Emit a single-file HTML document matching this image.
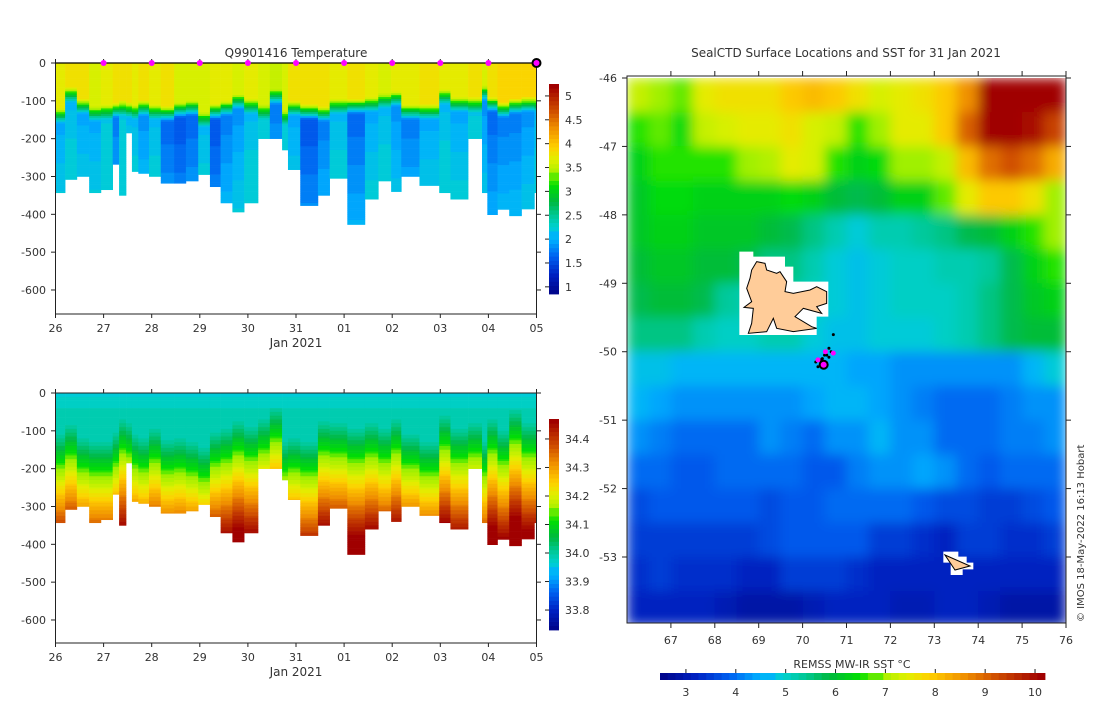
<!DOCTYPE html>
<html><head><meta charset="utf-8"><style>
body{margin:0;background:#fff;}
svg text{font-family:"DejaVu Sans","Liberation Sans",sans-serif;fill:#333;}
</style></head><body>
<svg id="s" width="1100" height="700" xmlns="http://www.w3.org/2000/svg">
<defs>
<clipPath id="mapclip"><rect x="627" y="76" width="439" height="547"/></clipPath>
<filter id="blur" x="0" y="0" width="1" height="1"><feGaussianBlur stdDeviation="6" edgeMode="duplicate"/></filter>
</defs>
<rect width="1100" height="700" fill="#fff"/>
<g id="tprof"></g>
<g id="sprof"></g>
<g clip-path="url(#mapclip)"><g id="sst" filter="url(#blur)"></g></g>
<g id="over"></g>
</svg>
<script>
// ---- profile data (per column), days since 26 Jan ----
const colStart=[0,0.2,0.444,0.7,0.944,1.189,1.322,1.467,1.589,1.722,1.944,2.189,2.467,2.711,2.967,3.211,3.433,3.678,3.922,4.211,4.456,4.711,4.833,5.089,5.456,5.7,6.067,6.433,6.711,6.978,7.189,7.567,7.978,8.211,8.578,8.867,8.978,9.189,9.433,9.689,9.956];
const colEnd=10.04;
const colDepth=[343,308,300,343,335,268,350,185,287,292,300,318,318,312,295,327,370,394,370,200,200,230,282,377,350,305,427,360,312,340,300,324,343,360,200,343,401,387,404,386,343];
const colMld=[120,65,95,115,110,105,100,105,110,100,110,115,105,100,130,110,100,82,95,110,70,125,100,110,115,95,95,90,80,75,110,110,70,90,90,60,90,105,95,90,90];
const colTSurf=[3.75,3.8,3.85,3.7,3.75,3.85,3.8,3.8,3.75,3.8,3.75,3.8,3.7,3.7,3.65,3.75,3.75,3.7,3.75,3.7,3.6,3.7,3.85,3.85,3.85,3.75,3.85,3.75,3.7,3.75,3.75,3.8,3.75,3.75,3.85,3.7,3.85,3.9,3.9,3.9,3.9];
const colTMin=[2.0,2.1,2.0,2.0,2.2,1.8,2.2,2.1,2.1,1.9,2.1,1.7,1.6,1.7,2.1,1.6,1.8,1.9,2.1,2.3,1.8,2.3,2.0,1.6,1.8,2.1,1.7,2.0,2.1,1.9,1.8,2.0,2.1,2.0,2.2,1.9,1.7,1.8,1.8,1.9,2.1];
const colSalY=[230,205,240,250,250,225,190,200,230,240,215,245,240,250,265,225,215,195,210,190,160,250,240,250,195,200,215,200,215,190,230,250,180,215,200,250,190,220,165,200,200];
const markerDays=[1,2,3,4,5,6,7,8,9];
const xTicks=['26','27','28','29','30','31','01','02','03','04','05'];
const yTicks=[0,-100,-200,-300,-400,-500,-600];
const tBarTicks=[1,1.5,2,2.5,3,3.5,4,4.5,5];
const sBarTicks=[33.8,33.9,34,34.1,34.2,34.3,34.4];
// ---- SST grid: rows lat -46.25..-53.75, cols lon 66.25..75.75 ----
const sstLat=[-46.25,-46.75,-47.25,-47.75,-48.25,-48.75,-49.25,-49.75,-50.25,-50.75,-51.25,-51.75,-52.25,-52.75,-53.25,-53.75];
const sstLon=[66.25,66.75,67.25,67.75,68.25,68.75,69.25,69.75,70.25,70.75,71.25,71.75,72.25,72.75,73.25,73.75,74.25,74.75,75.25,75.75];
const sstVals=[
[7.2,7.0,6.8,7.5,7.7,7.8,7.8,8.1,8.2,8.1,7.7,7.4,7.6,7.8,8.0,8.6,10.2,10.2,10.2,10.2],
[6.6,6.8,6.5,7.3,7.4,7.6,7.6,7.7,7.4,7.2,6.7,7.0,7.5,7.6,8.0,9.1,10.2,10.2,10.0,9.5],
[6.3,6.7,6.6,6.7,6.7,6.9,7.1,7.5,7.4,6.6,6.3,6.5,7.0,6.9,7.3,8.2,9.0,9.2,8.9,8.3],
[6.2,6.5,6.5,6.3,6.4,6.4,6.4,6.5,6.3,6.1,5.9,6.1,6.3,6.4,6.8,7.6,8.0,8.1,7.8,7.0],
[6.2,6.3,6.3,6.2,6.2,6.2,6.0,5.8,5.5,5.2,5.0,5.2,5.3,5.4,5.6,5.9,6.1,6.4,6.6,6.9],
[6.1,6.2,6.2,6.0,6.0,5.9,5.6,5.5,5.2,4.9,4.8,5.0,5.1,5.1,5.2,5.3,5.4,5.8,6.3,6.6],
[5.9,6.0,6.1,5.8,5.4,5.3,5.3,5.3,5.1,4.9,4.8,5.0,5.1,5.1,5.1,5.3,5.6,5.9,6.2,6.4],
[5.5,5.6,5.6,5.3,5.1,5.1,5.2,5.2,5.0,4.8,4.8,4.9,5.0,5.0,5.1,5.3,5.5,5.8,6.0,6.1],
[4.8,4.8,4.7,4.7,4.7,4.7,4.6,4.7,4.7,4.6,4.5,4.5,4.4,4.4,4.3,4.3,4.4,4.4,4.6,5.0],
[4.6,4.5,4.4,4.4,4.3,4.4,4.4,4.3,4.5,4.6,4.6,4.5,4.4,4.2,4.0,4.0,4.0,4.2,4.3,4.4],
[4.4,4.2,4.1,4.0,4.0,4.1,4.3,4.2,4.0,4.3,4.4,4.6,4.3,4.3,4.1,4.0,4.1,4.2,4.2,4.3],
[4.1,4.0,3.9,3.9,4.0,4.0,4.1,4.0,3.9,3.9,4.2,4.3,4.4,4.5,4.4,4.1,3.9,4.0,4.0,4.0],
[3.7,3.8,3.8,3.8,3.9,3.8,3.7,3.8,3.9,4.0,4.1,4.1,4.0,3.8,3.7,3.7,3.6,3.6,3.7,3.8],
[3.6,3.5,3.6,3.6,3.5,3.6,3.7,3.8,3.8,3.9,3.8,3.6,3.5,3.4,3.3,3.5,3.5,3.4,3.4,3.5],
[3.4,3.5,3.4,3.4,3.4,3.2,3.3,3.5,3.6,3.5,3.4,3.3,3.3,3.3,3.3,3.2,3.2,3.3,3.2,3.3],
[3.3,3.3,3.3,3.3,3.1,3.0,3.0,3.0,3.1,3.2,3.3,3.2,3.1,3.1,3.2,3.2,3.1,3.0,3.0,3.0]];
const sstTicks=[3,4,5,6,7,8,9,10];
const latTicks=[-46,-47,-48,-49,-50,-51,-52,-53];
const lonTicks=[67,68,69,70,71,72,73,74,75,76];

const NS='http://www.w3.org/2000/svg';
const stops=[[0,[0,0,128]],[0.1,[0,32,192]],[0.19,[0,96,240]],[0.27,[0,176,255]],[0.33,[0,208,208]],[0.39,[0,200,144]],[0.45,[0,184,64]],[0.53,[0,224,0]],[0.58,[160,240,0]],[0.65,[224,240,0]],[0.71,[255,208,0]],[0.8,[240,144,0]],[0.88,[208,80,0]],[1,[160,0,0]]];
function cmap(f){f=Math.max(0,Math.min(1,f));f=Math.round(f*50)/50;
 for(let i=1;i<stops.length;i++){if(f<=stops[i][0]){const a=stops[i-1],b=stops[i];const t=(f-a[0])/(b[0]-a[0]);
 return 'rgb('+a[1].map((v,k)=>Math.round(v+(b[1][k]-v)*t)).join(',')+')';}}return 'rgb(160,0,0)';}
function mk(tag,attrs,parent){const e=document.createElementNS(NS,tag);for(const k in attrs)e.setAttribute(k,attrs[k]);(parent||document.getElementById('over')).appendChild(e);return e;}
function txt(x,y,s,anchor,size,parent){const t=mk('text',{x:x,y:y,'text-anchor':anchor||'middle','font-size':size||11},parent);t.textContent=s;return t;}

const X0=55.5,PXD=48.1;
const XR=X0+10*PXD;
const xDay=d=>X0+d*PXD;
const yDepth=(d,top)=>top+d*0.3783;
function tempAt(i,z){const m=colMld[i];if(z<m)return colTSurf[i];
 if(z<m+40)return colTSurf[i]+(colTMin[i]-colTSurf[i])*(z-m)/40;
 return Math.min(2.3,colTMin[i]+(z-m-40)*0.0012);}
function salAt(i,z){const y=colSalY[i];const s0=33.97+0.03*Math.min(z,60)/60;
 if(z<y-120)return s0;return Math.max(s0,34.0+0.2*(z-(y-120))/120);}

function drawSection(gid,top,fn,vmin,vmax){
 const g=document.getElementById(gid);
 for(let i=0;i<colStart.length;i++){
  const x1=xDay(colStart[i]),x2=Math.min(XR,xDay(i+1<colStart.length?colStart[i+1]:colEnd));
  for(let z=0;z<colDepth[i];z+=5){
   const h=Math.min(5,colDepth[i]-z);
   const r=mk('rect',{x:x1.toFixed(2),y:yDepth(z,top).toFixed(2),width:(x2-x1+0.3).toFixed(2),height:(h*0.3783+0.3).toFixed(2),fill:cmap((fn(i,z+2.5)-vmin)/(vmax-vmin))},g);
   
   
  }
 }
}
drawSection('tprof',63,tempAt,0.85,5.25);
drawSection('sprof',393,salAt,33.73,34.47);

function axes(top,bottom,name){
 const box=mk('rect',{x:X0,y:top,width:XR-X0,height:bottom-top,fill:'none',stroke:'#222','stroke-width':1});
 
 
 xTicks.forEach((l,i)=>{const x=xDay(i);mk('line',{x1:x,x2:x,y1:bottom,y2:bottom+4,stroke:'#222'});mk('line',{x1:x,x2:x,y1:top,y2:top-4,stroke:'#222'});
  const t=txt(x,bottom+18,l);});
 const xl=txt(296,bottom+33,'Jan 2021','middle',12);
 yTicks.forEach(v=>{const y=yDepth(-v,top);mk('line',{x1:51,x2:X0,y1:y,y2:y,stroke:'#222'});mk('line',{x1:XR,x2:XR+4.5,y1:y,y2:y,stroke:'#222'});
  const t=txt(46,y+4,String(v),'end');});
}
axes(63,314,'temperature');
axes(393,643,'salinity');
mk('line',{x1:X0,x2:XR,y1:63,y2:63,stroke:'#000','stroke-width':1.2});
const tt=txt(296,57,'Q9901416  Temperature','middle',12);
markerDays.forEach(d=>{const c=mk('circle',{cx:xDay(d),cy:63,r:3,fill:'#ff00ff'});});
const lastM=mk('circle',{cx:xDay(10),cy:63,r:4,fill:'#ff00ff',stroke:'#000','stroke-width':2});



function vbar(x,top,bottom,vmin,vmax,ticks,name,fmt){
 const n=50,h=(bottom-top)/n;
 for(let k=0;k<n;k++){mk('rect',{x:x,y:(bottom-(k+1)*h).toFixed(2),width:10,height:(h+0.4).toFixed(2),fill:cmap((k+0.5)/n)});}
 ticks.forEach(v=>{const y=bottom-(v-vmin)/(vmax-vmin)*(bottom-top);mk('line',{x1:x-4,x2:x,y1:y,y2:y,stroke:'#222'});
  const t=txt(x+16,y+4,fmt(v),'start');});
}
vbar(549,84,294,0.85,5.25,tBarTicks,'temperature-colorbar',v=>String(v));
vbar(549,419,630,33.73,34.47,sBarTicks,'salinity-colorbar',v=>v.toFixed(1));

// ---- map ----
const lonX=l=>627+(l-66)*43.9;
const latY=l=>78+(-46-l)*68.43;
const sg=document.getElementById('sst');
sstVals.forEach((row,r)=>row.forEach((v,c)=>{
 const x1=lonX(sstLon[c]-0.25),y1=latY(sstLat[r]+0.25);
 const rc=mk('rect',{x:x1.toFixed(1),y:y1.toFixed(1),width:22.5,height:34.8,fill:cmap((v-2.48)/(10.2-2.48))},sg);
 
 
}));
function poly(pts,fill,stroke,name){const p=mk('polygon',{points:pts.map(q=>q.join(',')).join(' '),fill:fill,stroke:stroke||'none','stroke-width':1});return p;}
const Z3=(a)=>a.map(([x,y])=>[620+x/3,70+y/3]);
poly(Z3([[358,545],[400,545],[400,560],[470,560],[470,560],[495,560],[495,590],[520,590],[520,635],[625,635],[625,740],[590,740],[590,795],[358,795]]),'#fff',null,'kerguelen-mask');
poly(Z3([[410,575],[435,580],[440,600],[470,610],[480,605],[500,635],[495,665],[520,670],[570,660],[590,650],[620,665],[620,700],[590,710],[605,730],[550,715],[525,740],[575,770],[590,775],[520,785],[470,775],[460,745],[440,785],[385,790],[395,760],[400,715],[372,712],[395,695],[380,655],[390,625],[395,600]]),'#ffcc99','#000','kerguelen-island');
const Z4=(a)=>a.map(([x,y])=>[620+x/3,340+y/3]);
poly(Z4([[970,635],[1015,635],[1015,650],[1040,650],[1040,668],[1060,668],[1060,688],[1028,688],[1028,705],[992,705],[992,668],[970,668]]),'#fff',null,'heard-mask');
poly(Z4([[975,645],[1050,678],[1005,690]]),'#ffcc99','#000','heard-island');
const trackLon=[70.3,70.45,70.55,70.6,70.65,70.5,70.4,70.6,70.7,70.35,70.5];
const trackLat=[-50.15,-50.1,-50.05,-49.95,-50.0,-50.2,-50.12,-50.08,-49.75,-50.22,-50.05];
trackLon.forEach((l,i)=>{const c=mk('circle',{cx:lonX(l),cy:latY(trackLat[i]),r:1.5,fill:'#000'});});
[[70.52,-50.0],[70.7,-50.02],[70.35,-50.12]].forEach(p=>{const c=mk('circle',{cx:lonX(p[0]),cy:latY(p[1]),r:2.5,fill:'#ff00ff'});});
const last=mk('circle',{cx:lonX(70.48),cy:latY(-50.19),r:4,fill:'#ff00ff',stroke:'#000','stroke-width':2});


const mb=mk('rect',{x:627,y:76,width:439,height:547,fill:'none',stroke:'#222'});


latTicks.forEach(v=>{const y=latY(v);mk('line',{x1:622,x2:627,y1:y,y2:y,stroke:'#222'});mk('line',{x1:1066,x2:1071,y1:y,y2:y,stroke:'#222'});
 const t=txt(617,y+4,String(v),'end');});
lonTicks.forEach(v=>{const x=lonX(v);mk('line',{x1:x,x2:x,y1:623,y2:628,stroke:'#222'});mk('line',{x1:x,x2:x,y1:71,y2:76,stroke:'#222'});
 const t=txt(x,644,String(v));});
const mt=txt(846,57,'SealCTD Surface Locations and SST for 31 Jan 2021','middle',12);


const hn=50,hw=(1045-660)/hn;
for(let k=0;k<hn;k++){mk('rect',{x:(660+k*hw).toFixed(2),y:673,width:(hw+0.4).toFixed(2),height:7,fill:cmap((k+0.5)/hn)});}
sstTicks.forEach(v=>{const x=660+(v-2.48)/(10.2-2.48)*385;mk('line',{x1:x,x2:x,y1:669,y2:673,stroke:'#222'});
 const t=txt(x,696,String(v));});
const ct=txt(852,668,'REMSS MW-IR SST °C','middle',11);


const cr=txt(0,0,'© IMOS 18-May-2022 16:13 Hobart','start',10);
cr.setAttribute('transform','translate(1084,622) rotate(-90)');


</script>
</body></html>
